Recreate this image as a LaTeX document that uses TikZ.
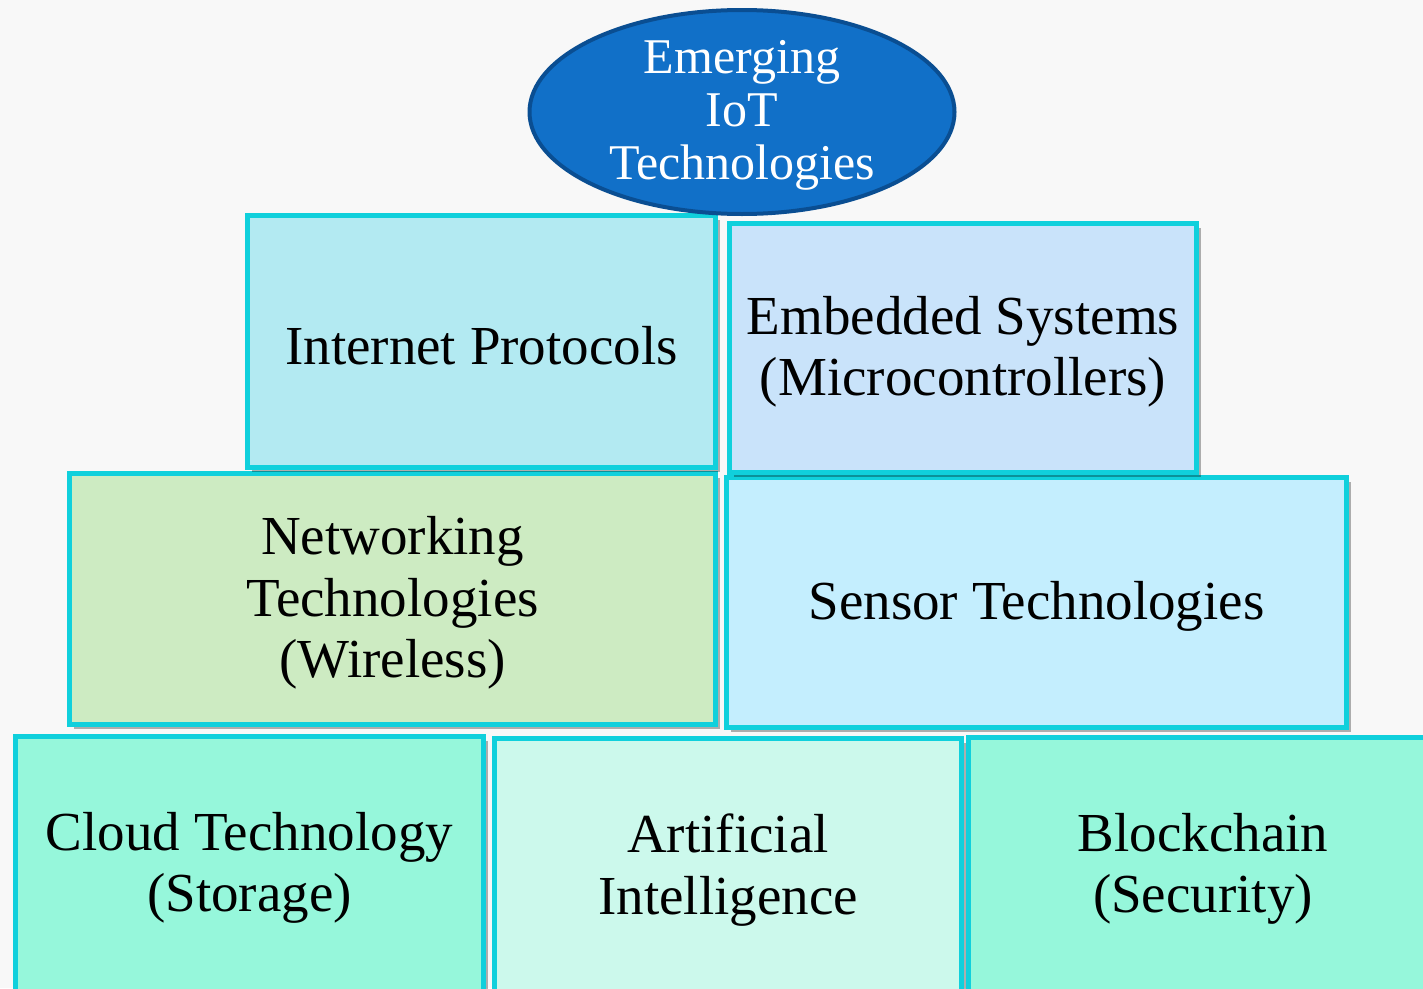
\documentclass[tikz,border=0pt]{standalone}
\usepackage{fontspec}
\setmainfont{Liberation Serif}
\usetikzlibrary{shapes.geometric,shadows}
\definecolor{bgc}{HTML}{F8F8F8}
\definecolor{edgec}{HTML}{10D0DC}
\definecolor{ipc}{HTML}{B3EAF2}
\definecolor{embc}{HTML}{C9E3FA}
\definecolor{netc}{HTML}{CDEBC2}
\definecolor{senc}{HTML}{C4EEFE}
\definecolor{mintc}{HTML}{96F7DB}
\definecolor{aic}{HTML}{CCF9EC}
\definecolor{ellc}{HTML}{1170C8}
\definecolor{elledge}{HTML}{0A4E92}
\begin{document}
\begin{tikzpicture}[x=1pt,y=-1pt,
  techbox/.style={rectangle, draw=edgec, line width=5pt, inner sep=0pt,
    drop shadow={shadow xshift=4pt, shadow yshift=-4pt, opacity=0.3, fill=black}},
  boxtext/.style={align=center, font=\fontsize{55}{61.5}\selectfont, text=black,
    inner sep=0pt, yshift=-4pt},
  topell/.style={ellipse, draw=elledge, fill=ellc, line width=4pt, inner sep=0pt},
  elltext/.style={align=center, text=white, font=\fontsize{50}{53}\selectfont,
    inner sep=0pt, yshift=-3pt}]
\fill[bgc] (0,0) rectangle (1423,988);
\useasboundingbox (0,0) rectangle (1423,988);
% bottom row
\node[techbox, fill=mintc, minimum width=468pt, minimum height=255pt,
  label={[boxtext]center:Cloud Technology\\(Storage)}] (cloud) at (249.5,864) {};
\node[techbox, fill=aic, minimum width=467pt, minimum height=255pt,
  label={[boxtext]center:Artificial\\Intelligence}] (ai) at (728,866) {};
\node[techbox, fill=mintc, minimum width=469pt, minimum height=255pt,
  label={[boxtext]center:Blockchain\\(Security)}] (block) at (1203,865) {};
% middle row
\node[techbox, fill=netc, minimum width=646pt, minimum height=251pt,
  label={[boxtext]center:Networking\\Technologies\\(Wireless)}] (net) at (392.5,599) {};
\node[techbox, fill=senc, minimum width=620pt, minimum height=250pt,
  label={[boxtext]center:Sensor Technologies}] (sensor) at (1036.5,602.5) {};
% top row
\node[techbox, fill=ipc, minimum width=468pt, minimum height=252pt,
  label={[boxtext]center:Internet Protocols}] (ip) at (481.5,341.5) {};
\node[techbox, fill=embc, minimum width=467pt, minimum height=249pt,
  label={[boxtext]center:Embedded Systems\\(Microcontrollers)}] (emb) at (963,348) {};
% top ellipse
\node[topell, minimum width=425pt, minimum height=204pt,
  label={[elltext]center:Emerging\\IoT\\Technologies}] (iot) at (742,112) {};
\end{tikzpicture}
\end{document}
